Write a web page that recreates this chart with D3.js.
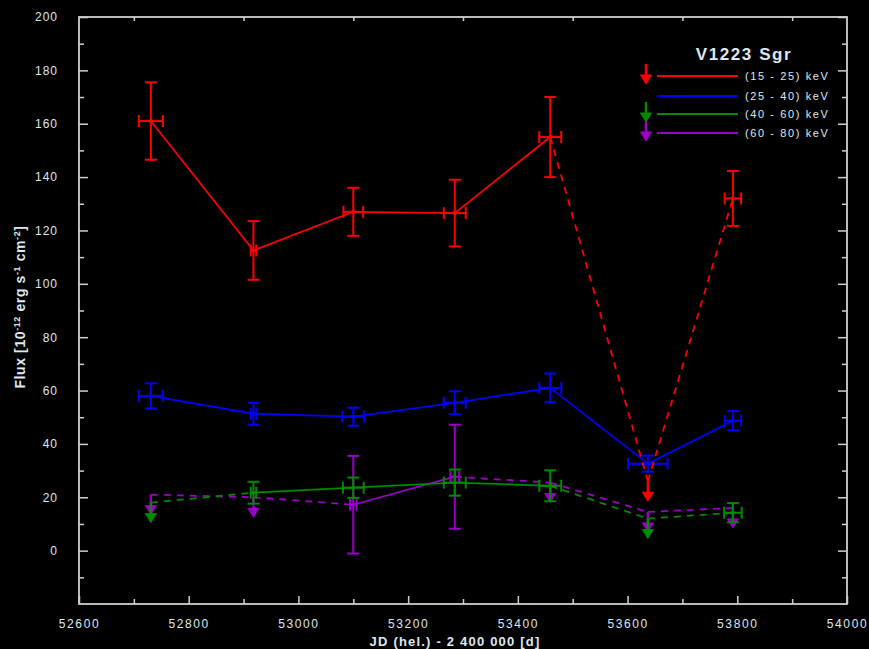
<!DOCTYPE html>
<html>
<head>
<meta charset="utf-8">
<script src="https://cdn.jsdelivr.net/npm/d3@7/dist/d3.min.js"></script>
<style>
  html, body { margin: 0; padding: 0; background: #000; }
  svg { display: block; }
  text { font-family: "Liberation Sans", Arial, sans-serif; fill: #dfe7ef; }
</style>
</head>
<body>
<svg id="chart" width="869" height="649"></svg>
<script>
// ---------- DATA ----------
const jd       = [52731, 52918, 53100, 53285, 53459, 53637, 53792];

const seriesNames = ["(15 - 25) keV", "(25 - 40) keV", "(40 - 60) keV", "(60 - 80) keV"];

const red      = [161, 112.5, 127, 126.5, 155, 26, 132];
const redErr   = [14.5, 11, 9, 12.5, 15, 0, 10.3];
const redUL    = [false, false, false, false, false, true, false];
const redXErr  = [22, 5, 18, 20, 20, 0, 15];

const blue     = [58, 51.3, 50.2, 55.4, 61, 32.6, 48.7];
const blueErr  = [4.7, 4.1, 3.4, 4.3, 5.4, 3, 3.6];
const blueUL   = [false, false, false, false, false, false, false];
const blueXErr = [22, 5, 20, 20, 20, 36, 15];

const green     = [18, 21.7, 23.6, 25.5, 24.3, 12, 14.2];
const greenErr  = [0, 4.1, 3.8, 4.9, 5.8, 0, 3.6];
const greenUL   = [true, false, false, false, false, true, false];
const greenXErr = [0, 5, 19, 20, 20, 0, 16];

const purple     = [21, 20, 17.2, 27.7, 25.5, 14.5, 16];
const purpleErr  = [0, 0, 18.3, 19.5, 0, 0, 0];
const purpleUL   = [true, true, false, false, true, true, true];
const purpleXErr = [0, 0, 6, 8, 0, 0, 0];

const xTicks = [52600, 52800, 53000, 53200, 53400, 53600, 53800, 54000];
const yTicks = [0, 20, 40, 60, 80, 100, 120, 140, 160, 180, 200];
const title = "V1223 Sgr";

// ---------- LAYOUT ----------
const svg = d3.select("#chart");
const L = 79, R = 847, T = 17, B = 604;
const x = d3.scaleLinear().domain([52600, 54000]).range([L, R]);
const y = d3.scaleLinear().domain([-20, 200]).range([B, T]);
const frameCol = "#cfcfcf";
const colors = ["#ff0000", "#0000ff", "#008a00", "#9a00c8"];

svg.append("rect").attr("width", 869).attr("height", 649).attr("fill", "#000");

// axes (ticks inward)
const yMinor = d3.range(-10, 200, 20);
const xMinor = d3.range(52700, 54000, 200);
function axisG(axis, tx, ty) {
  const g = svg.append("g").attr("transform", `translate(${tx},${ty})`).call(axis);
  g.select(".domain").remove();
  g.selectAll("line").attr("stroke", frameCol).attr("stroke-width", 1.5);
  return g;
}
// left
const gl = axisG(d3.axisLeft(y).tickValues(yTicks).tickSize(-9).tickPadding(21).tickFormat(d3.format("d")), L, 0);
gl.selectAll("text").attr("font-size", 12).attr("letter-spacing", 1).attr("fill", "#dfe7ef").attr("font-family", "Liberation Sans, Arial, sans-serif");
axisG(d3.axisLeft(y).tickValues(yMinor).tickSize(-5).tickFormat(""), L, 0);
// right
axisG(d3.axisRight(y).tickValues(yTicks).tickSize(-9).tickFormat(""), R, 0);
axisG(d3.axisRight(y).tickValues(yMinor).tickSize(-5).tickFormat(""), R, 0);
// bottom
const gb = axisG(d3.axisBottom(x).tickValues(xTicks).tickSize(-8).tickPadding(15).tickFormat(d3.format("d")), 0, B);
gb.selectAll("text").attr("font-size", 12).attr("letter-spacing", 1.6).attr("fill", "#dfe7ef").attr("font-family", "Liberation Sans, Arial, sans-serif");
axisG(d3.axisBottom(x).tickValues(xMinor).tickSize(-5).tickFormat(""), 0, B);
// top
axisG(d3.axisTop(x).tickValues(xMinor).tickSize(-4).tickFormat(""), 0, T);

// frame
svg.append("rect").attr("x", L).attr("y", T).attr("width", R - L).attr("height", B - T)
  .attr("fill", "none").attr("stroke", frameCol).attr("stroke-width", 1.8);

// axis titles
svg.append("text").attr("x", 455).attr("y", 646).attr("text-anchor", "middle")
  .attr("font-size", 13).attr("font-weight", "bold").attr("letter-spacing", 1.2)
  .text("JD (hel.) - 2 400 000 [d]");
const yt = svg.append("text").attr("transform", "translate(25,307) rotate(-90)")
  .attr("text-anchor", "middle").attr("font-size", 14).attr("font-weight", "bold").attr("letter-spacing", 0.6);
yt.append("tspan").text("Flux [10");
yt.append("tspan").attr("font-size", 9).attr("dy", -5).text("-12");
yt.append("tspan").attr("dy", 5).text(" erg s");
yt.append("tspan").attr("font-size", 9).attr("dy", -5).text("-1");
yt.append("tspan").attr("dy", 5).text(" cm");
yt.append("tspan").attr("font-size", 9).attr("dy", -5).text("-2");
yt.append("tspan").attr("dy", 5).text("]");

// ---------- SERIES ----------
const series = [
  { v: red, e: redErr, ul: redUL, xe: redXErr },
  { v: blue, e: blueErr, ul: blueUL, xe: blueXErr },
  { v: green, e: greenErr, ul: greenUL, xe: greenXErr },
  { v: purple, e: purpleErr, ul: purpleUL, xe: purpleXErr }
];

function arrow(g, cx, cy, col) {
  g.append("line").attr("x1", cx).attr("x2", cx).attr("y1", cy).attr("y2", cy + 13)
    .attr("stroke", col).attr("stroke-width", 2.4);
  g.append("path").attr("d", `M${cx - 5.5},${cy + 11} L${cx + 5.5},${cy + 11} L${cx},${cy + 20} Z`)
    .attr("fill", col).attr("stroke", col).attr("stroke-width", 1);
}

// draw order: purple, green, blue, red (red on top)
[3, 2, 1, 0].forEach(si => {
  const s = series[si], col = colors[si];
  const g = svg.append("g");
  const pts = jd.map((d, i) => ({ x: d, y: s.v[i], e: s.e[i], ul: s.ul[i], xe: s.xe[i] }));
  // connecting segments
  for (let i = 0; i < pts.length - 1; i++) {
    const a = pts[i], b = pts[i + 1];
    g.append("line")
      .attr("x1", x(a.x)).attr("y1", y(a.y)).attr("x2", x(b.x)).attr("y2", y(b.y))
      .attr("stroke", col).attr("stroke-width", 1.8)
      .attr("stroke-dasharray", (a.ul || b.ul) ? "7,6" : null);
  }
  pts.forEach(p => {
    const cx = x(p.x), cy = y(p.y);
    if (p.ul) { arrow(g, cx, cy, col); return; }
    if (p.e > 0) {
      g.append("line").attr("x1", cx).attr("x2", cx).attr("y1", y(p.y + p.e)).attr("y2", y(p.y - p.e))
        .attr("stroke", col).attr("stroke-width", 2);
      [p.y + p.e, p.y - p.e].forEach(v => g.append("line")
        .attr("x1", cx - 6).attr("x2", cx + 6).attr("y1", y(v)).attr("y2", y(v))
        .attr("stroke", col).attr("stroke-width", 2));
    }
    if (p.xe > 0) {
      g.append("line").attr("x1", x(p.x - p.xe)).attr("x2", x(p.x + p.xe)).attr("y1", cy).attr("y2", cy)
        .attr("stroke", col).attr("stroke-width", 2);
      [p.x - p.xe, p.x + p.xe].forEach(v => g.append("line")
        .attr("x1", x(v)).attr("x2", x(v)).attr("y1", cy - 6).attr("y2", cy + 6)
        .attr("stroke", col).attr("stroke-width", 2));
    }
    g.append("circle").attr("cx", cx).attr("cy", cy).attr("r", 2).attr("fill", col);
  });
});

// ---------- LEGEND ----------
svg.append("text").attr("x", 744).attr("y", 60).attr("text-anchor", "middle")
  .attr("font-size", 17).attr("font-weight", "bold").attr("letter-spacing", 1.6).text(title);
const legY = [76, 96, 114, 133];
const legArrow = [true, false, true, true];
seriesNames.forEach((name, i) => {
  svg.append("line").attr("x1", 657).attr("x2", 738).attr("y1", legY[i]).attr("y2", legY[i])
    .attr("stroke", colors[i]).attr("stroke-width", 1.8);
  if (legArrow[i]) arrow(svg, 646, legY[i] - 12, colors[i]);
  svg.append("text").attr("x", 745).attr("y", legY[i] + 4).attr("font-size", 11)
    .attr("letter-spacing", 1.6).text(name);
});
</script>
</body>
</html>
